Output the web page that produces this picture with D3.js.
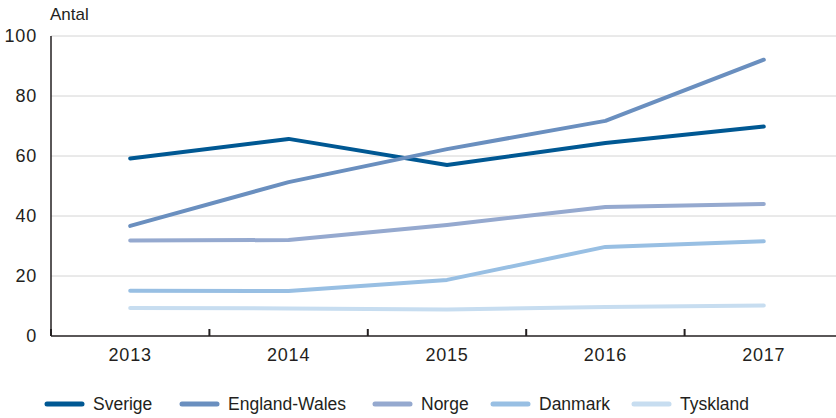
<!DOCTYPE html>
<meta charset="utf-8">
<title>Antal</title>
<style>
  body { margin: 0; background: white; }
  svg text { font-family: "Liberation Sans", Arial, sans-serif; fill: #231f20; }
  .grid line { stroke: #d4d4d4; stroke-width: 1px; }
  .series path { fill: none; stroke-width: 4px; stroke-linecap: round; stroke-linejoin: round; }
  .num { font-size: 18px; letter-spacing: 0.8px; }
</style>
<svg width="836" height="418"></svg>
<script src="https://d3js.org/d3.v7.min.js"></script>
<script>
  var years = ["2013", "2014", "2015", "2016", "2017"];
  var yTicks = [0, 20, 40, 60, 80, 100];

  var sverige  = [59.2, 65.7, 57.0, 64.3, 69.8];
  var england  = [36.7, 51.3, 62.3, 71.7, 92.1];
  var norge    = [31.8, 32.0, 37.0, 43.0, 44.0];
  var danmark  = [15.1, 15.0, 18.7, 29.7, 31.6];
  var tyskland = [9.3, 9.2, 8.8, 9.7, 10.2];

  var names  = ["Sverige", "England-Wales", "Norge", "Danmark", "Tyskland"];
  var colors = ["#005893", "#6a8fbf", "#95a9cf", "#98bfe3", "#c7ddf0"];
  var values = [sverige, england, norge, danmark, tyskland];

  var svg = d3.select("svg"),
      plotLeft = 51, plotTop = 36, plotBottom = 336;

  var x = d3.scaleBand().domain(years).range([plotLeft, plotLeft + 5 * 158.4]);
  var y = d3.scaleLinear().domain([0, 100]).range([plotBottom, plotTop]);

  // gridlines
  svg.append("g").attr("class", "grid")
    .selectAll("line").data(yTicks.slice(1)).enter().append("line")
    .attr("x1", plotLeft).attr("x2", 836)
    .attr("y1", function(d) { return y(d); })
    .attr("y2", function(d) { return y(d); });

  // y labels
  svg.append("g").selectAll("text").data(yTicks).enter().append("text")
    .attr("class", "num")
    .attr("x", 37).attr("y", function(d) { return y(d) + 6; })
    .attr("text-anchor", "end")
    .text(function(d) { return d; });

  svg.append("text").attr("x", 50).attr("y", 20).attr("font-size", 17).text("Antal");

  // x labels
  svg.append("g").selectAll("text").data(years).enter().append("text")
    .attr("class", "num")
    .attr("x", function(d) { return x(d) + x.bandwidth() / 2; })
    .attr("y", 361).attr("text-anchor", "middle")
    .text(function(d) { return d; });

  // lines
  var line = d3.line()
    .x(function(d, i) { return x(years[i]) + x.bandwidth() / 2; })
    .y(function(d) { return y(d); });

  svg.append("g").attr("class", "series")
    .selectAll("path").data(values).enter().append("path")
    .attr("stroke", function(d, i) { return colors[i]; })
    .attr("d", line);

  // axes
  svg.append("line").attr("x1", plotLeft).attr("x2", plotLeft).attr("y1", plotTop).attr("y2", plotBottom)
    .attr("stroke", "#231f20").attr("stroke-width", 1.5);
  svg.append("line").attr("x1", plotLeft).attr("x2", 836).attr("y1", plotBottom).attr("y2", plotBottom)
    .attr("stroke", "#231f20").attr("stroke-width", 1.5);
  svg.append("g").selectAll("line").data(years).enter().append("line")
    .attr("x1", function(d) { return x(d); }).attr("x2", function(d) { return x(d); })
    .attr("y1", plotBottom - 7).attr("y2", plotBottom)
    .attr("stroke", "#231f20").attr("stroke-width", 2);

  // legend
  var legX = [47, 182, 375, 493, 634];
  var leg = svg.append("g").selectAll("g").data(names).enter().append("g")
    .attr("transform", function(d, i) { return "translate(" + legX[i] + ",404)"; });
  leg.append("line").attr("x1", 0).attr("x2", 35)
    .attr("stroke", function(d, i) { return colors[i]; })
    .attr("stroke-width", 5).attr("stroke-linecap", "round");
  leg.append("text").attr("x", 46).attr("y", 6).attr("font-size", 17.5)
    .text(function(d) { return d; });
</script>
